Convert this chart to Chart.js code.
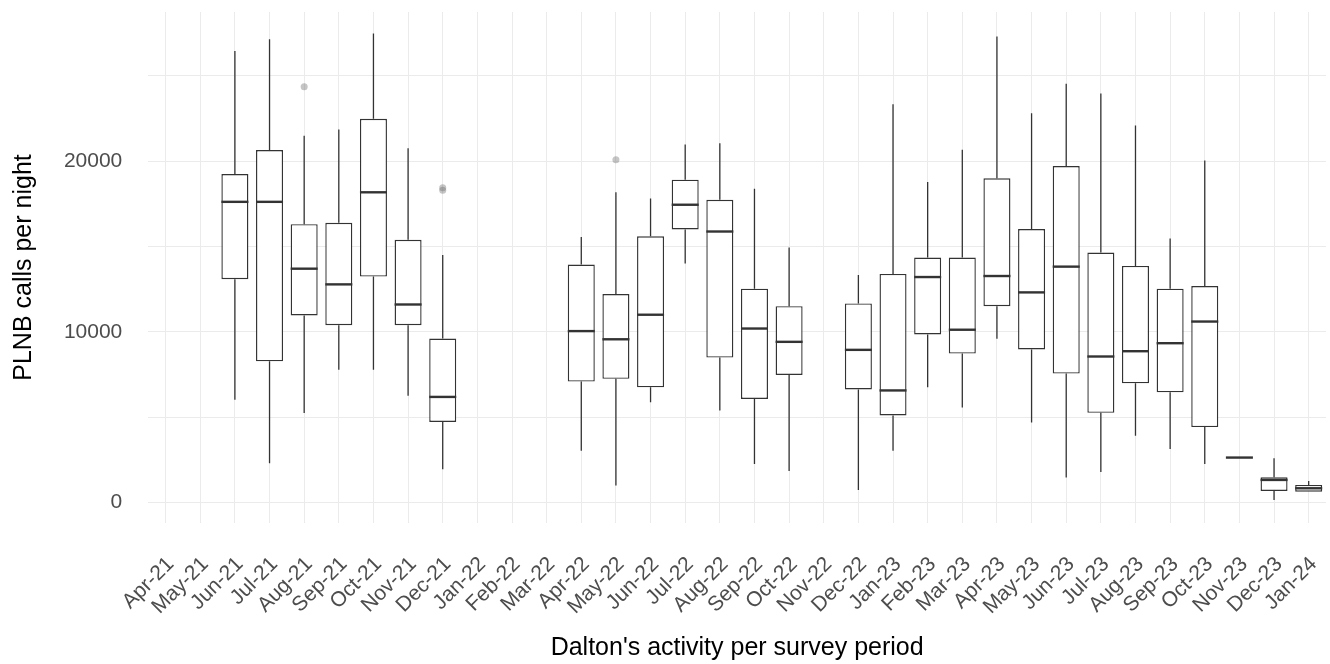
<!DOCTYPE html>
<html>
<head>
<meta charset="utf-8">
<title>PLNB calls per night</title>
<script src="https://cdn.jsdelivr.net/npm/chart.js@4.4.1/dist/chart.umd.min.js"></script>
<style>
  html, body { margin: 0; padding: 0; background: #ffffff; }
</style>
</head>
<body>
<canvas id="boxChart" width="1330" height="664"></canvas>
<script>
// Survey periods (x axis)
const months = ["Apr-21", "May-21", "Jun-21", "Jul-21", "Aug-21", "Sep-21", "Oct-21", "Nov-21", "Dec-21",
  "Jan-22", "Feb-22", "Mar-22", "Apr-22", "May-22", "Jun-22", "Jul-22", "Aug-22", "Sep-22", "Oct-22", "Nov-22", "Dec-22",
  "Jan-23", "Feb-23", "Mar-23", "Apr-23", "May-23", "Jun-23", "Jul-23", "Aug-23", "Sep-23", "Oct-23", "Nov-23", "Dec-23",
  "Jan-24"];

// Box plot statistics per month (null = no survey)
const whiskerLow = [null, null, 6020, 2290, 5240, 7780, 7780, 6250, 1940,
  null, null, null, 3020, 980, 5860, 14000, 5390, 2240, 1840, null, 720,
  3020, 6740, 5560, 9590, 4680, 1450, 1770, 3900, 3120, 2250, 2623, 135,
  624];
const lowerQuartile = [null, null, 13080, 8270, 10960, 10390, 13240, 10390, 4710,
  null, null, null, 7080, 7240, 6740, 16000, 8490, 6060, 7470, null, 6620,
  5090, 9840, 8720, 11500, 8960, 7550, 5250, 6980, 6450, 4410, 2623, 665,
  624];
const medians = [null, null, 17620, 17620, 13700, 12780, 18180, 11600, 6180,
  null, null, null, 10040, 9560, 11000, 17450, 15880, 10190, 9410, null, 8940,
  6560, 13210, 10120, 13270, 12310, 13820, 8550, 8860, 9330, 10600, 2623, 1312,
  823];
const upperQuartile = [null, null, 19250, 20660, 16310, 16390, 22490, 15390, 9600,
  null, null, null, 13940, 12210, 15600, 18920, 17740, 12530, 11500, null, 11660,
  13390, 14350, 14350, 19000, 16020, 19720, 14650, 13860, 12530, 12680, 2623, 1470,
  1018];
const whiskerHigh = [null, null, 26470, 27150, 21500, 21860, 27490, 20760, 14500,
  null, null, null, 15560, 18180, 17820, 20980, 21060, 18390, 14940, null, 13330,
  23350, 18780, 20680, 27310, 22820, 24550, 23980, 22090, 15470, 20040, 2623, 2588,
  1253];

// Outliers
const outlierMonths = ["Aug-21", "Dec-21", "Dec-21", "May-22"];
const outlierValues = [24370, 18300, 18450, 20090];

const yTicks = [0, 5000, 10000, 15000, 20000, 25000];

const fontFamily = "'Liberation Sans', Arial, Helvetica, sans-serif";
const lineColor = '#333333';

// the axes should not push the plot area in (ticks padding is used only for the labels)
function noPadding(scale) {
  scale.paddingTop = 0;
  scale.paddingBottom = 0;
  scale.paddingLeft = 0;
  scale.paddingRight = 0;
}

// whiskers + medians, drawn on top of the boxes
const whiskerPlugin = {
  id: 'whiskers',
  afterDatasetsDraw(chart) {
    const ctx = chart.ctx;
    const y = chart.scales.y;
    const bars = chart.getDatasetMeta(0).data;
    ctx.save();
    ctx.strokeStyle = lineColor;
    ctx.lineCap = 'butt';
    bars.forEach((bar, i) => {
      if (medians[i] == null) return;
      const x = bar.x;
      const half = bar.width / 2;
      ctx.lineWidth = 1.3;
      ctx.beginPath();
      ctx.moveTo(x, y.getPixelForValue(whiskerLow[i]));
      ctx.lineTo(x, y.getPixelForValue(lowerQuartile[i]));
      ctx.moveTo(x, y.getPixelForValue(upperQuartile[i]));
      ctx.lineTo(x, y.getPixelForValue(whiskerHigh[i]));
      ctx.stroke();
      ctx.lineWidth = 2.4;
      ctx.beginPath();
      const ym = y.getPixelForValue(medians[i]);
      ctx.moveTo(x - half, ym);
      ctx.lineTo(x + half, ym);
      ctx.stroke();
    });
    ctx.restore();
  }
};

new Chart(document.getElementById('boxChart').getContext('2d'), {
  type: 'bar',
  data: {
    labels: months,
    datasets: [{
      label: 'Boxes',
      data: months.map((m, i) => lowerQuartile[i] == null ? null : [lowerQuartile[i], upperQuartile[i]]),
      backgroundColor: '#ffffff',
      borderColor: lineColor,
      borderWidth: 1.4,
      borderSkipped: false,
      barPercentage: 0.78,
      categoryPercentage: 1,
      order: 2
    }, {
      type: 'line',
      label: 'Outliers',
      data: outlierMonths.map((m, i) => ({ x: m, y: outlierValues[i] })),
      showLine: false,
      pointRadius: 3.5,
      pointBorderWidth: 0,
      pointBackgroundColor: 'rgba(110,110,110,0.4)',
      order: 1
    }]
  },
  options: {
    responsive: false,
    animation: false,
    devicePixelRatio: 1,
    layout: { padding: { top: 12, right: 1, left: 0, bottom: 0 } },
    plugins: {
      legend: { display: false },
      tooltip: { enabled: false }
    },
    scales: {
      x: {
        type: 'category',
        offset: true,
        grid: { color: '#ebebeb', lineWidth: 1, offset: false, drawTicks: false },
        border: { display: false },
        ticks: {
          autoSkip: false,
          minRotation: 45,
          maxRotation: 45,
          padding: 29,
          labelOffset: 5,
          color: '#4d4d4d',
          font: { family: fontFamily, size: 21 }
        },
        title: {
          display: true,
          text: "Dalton's activity per survey period",
          color: '#000000',
          font: { family: fontFamily, size: 25 },
          padding: { top: 0, bottom: 1 }
        },
        afterFit: scale => { scale.height = 141; noPadding(scale); }
      },
      y: {
        min: -1214,
        max: 28753,
        afterBuildTicks: scale => { scale.ticks = yTicks.map(v => ({ value: v })); },
        grid: { color: '#ebebeb', lineWidth: 1, drawTicks: false },
        border: { display: false },
        ticks: {
          padding: 26,
          color: '#4d4d4d',
          font: { family: fontFamily, size: 21 },
          callback: v => (v % 10000 === 0 ? String(v) : '')
        },
        title: {
          display: true,
          text: 'PLNB calls per night',
          color: '#000000',
          font: { family: fontFamily, size: 25 },
          padding: { top: 9, bottom: 0 }
        },
        afterFit: scale => { scale.width = 148.3; noPadding(scale); }
      }
    }
  },
  plugins: [whiskerPlugin]
});
</script>
</body>
</html>
